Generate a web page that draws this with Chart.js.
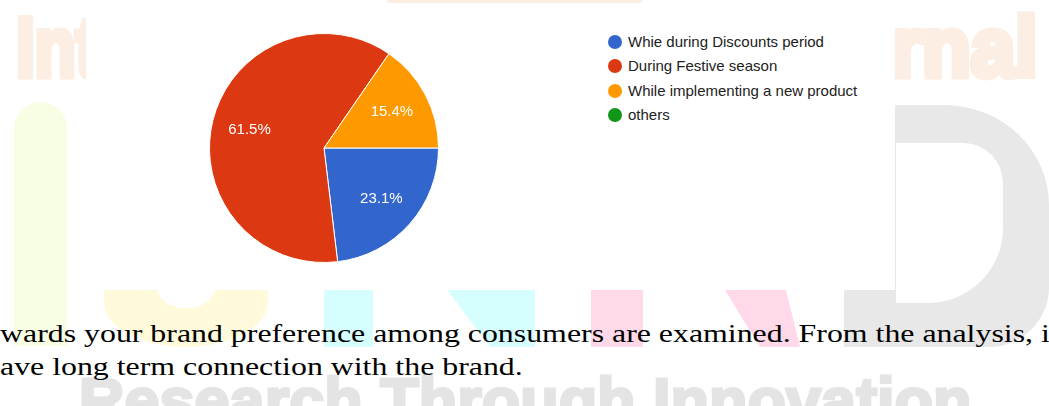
<!DOCTYPE html>
<html>
<head>
<meta charset="utf-8">
<script src="https://cdn.jsdelivr.net/npm/chart.js@4.4.1/dist/chart.umd.min.js"></script>
<style>
  html, body { margin: 0; padding: 0; }
  body {
    width: 1049px; height: 406px; overflow: hidden; position: relative;
    background: #fff; font-family: 'Liberation Sans', Arial, sans-serif;
  }
  .wm { position: absolute; }
  .clip { position: absolute; overflow: hidden; }
  .wmtext { position: absolute; white-space: nowrap; font-weight: bold; }
  #box { position: absolute; left: 86px; top: 3px; width: 809px; height: 287px; background: #fff; }
  #pie { position: absolute; left: 194px; top: 18px; }
  #legend { position: absolute; left: 0; top: 0; }
  .row { position: absolute; left: 608px; height: 20px; white-space: nowrap; }
  .dot { position: absolute; left: 0; top: 3px; width: 14px; height: 14px; border-radius: 50%; }
  .lbl { position: absolute; left: 20px; top: 0; line-height: 20px; font-size: 15px; color: #222; }
  #para {
    position: absolute; left: 0; top: 317px; white-space: nowrap;
    font-family: 'Liberation Serif', 'Times New Roman', serif; font-size: 26px; line-height: 33px;
    color: #000; transform: scaleX(1.225); transform-origin: 0 0;
  }
</style>
</head>
<body>

<!-- watermark behind the figure -->
<div class="wm" style="left:387px;top:0;width:255px;height:3px;background:#fdeee2"></div>
<div class="clip" style="left:0;top:0;width:87px;height:100px">
  <div class="wmtext" style="left:16px;top:5px;font-size:84px;line-height:84px;color:#fdeee3;-webkit-text-stroke:7px #fdeee3;transform:scaleX(.8);transform-origin:0 0">Int</div>
</div>
<div class="clip" style="left:895px;top:0;width:154px;height:100px">
  <div class="wmtext" style="left:-4px;top:5px;font-size:84px;line-height:84px;color:#fdeee3;-webkit-text-stroke:7px #fdeee3;transform:scaleX(.95);transform-origin:0 0">rnal</div>
</div>
<div class="wm" style="left:14px;top:102px;width:53px;height:244px;background:#f8fee3;border-radius:26px 26px 0 0"></div>
<div class="wm" style="left:104px;top:190px;width:164px;height:157px;background:#fffadb;border-radius:0 0 82px 82px / 0 0 45px 45px"></div>
<div class="wm" style="left:157px;top:190px;width:58px;height:118px;background:#fff;border-radius:0 0 29px 29px / 0 0 20px 20px"></div>
<div class="wm" style="left:324px;top:100px;width:49px;height:247px;background:#d6fefe"></div>
<div class="wm" style="left:0;top:0;width:1049px;height:406px;background:#d6fefe;clip-path:polygon(305px 100px,535px 100px,535px 347px,490px 347px)"></div>
<div class="wm" style="left:591px;top:100px;width:52px;height:247px;background:#ffd8ea"></div>
<div class="wm" style="left:0;top:0;width:1049px;height:406px;background:#ffd8ea;clip-path:polygon(725px 290px,786px 290px,800px 347px,760px 347px)"></div>
<div class="wm" style="left:844px;top:105px;width:205px;height:242px;background:#e8e8e8;border-top-right-radius:105px 100px;border-bottom-right-radius:60px 60px"></div>
<div class="wm" style="left:896px;top:143px;width:107px;height:160px;background:#fff;border-top-right-radius:40px;border-bottom-right-radius:75px"></div>
<div class="wmtext" style="left:79px;top:368px;font-size:63px;line-height:64px;color:#e4e4e4;-webkit-text-stroke:3px #e4e4e4">Research Through Innovation</div>

<div id="box"></div>
<canvas id="pie" width="260" height="260"></canvas>
<div id="legend"></div>

<div id="para">wards your brand preference among consumers are examined. From the analysis, i<br>ave long term connection with the brand.</div>

<script>
// data
const categorias = ['Whie during Discounts period', 'During Festive season', 'While implementing a new product', 'others'];
const porcentajes = [23.1, 61.5, 15.4, 0];
const colores = ['#3366cc', '#dc3912', '#ff9900', '#109618'];

// legend built from the same arrays
const legend = document.getElementById('legend');
categorias.forEach((c, i) => {
    const row = document.createElement('div');
    row.className = 'row';
    row.style.top = (42 + i * 24.3 - 10) + 'px';
    row.innerHTML = '<span class="dot" style="background:' + colores[i] + '"></span><span class="lbl">' + c + '</span>';
    legend.appendChild(row);
});

// percent labels inside slices
const pieLabels = {
    id: 'pieLabels',
    afterDatasetsDraw(chart) {
        const ctx = chart.ctx;
        const meta = chart.getDatasetMeta(0);
        ctx.save();
        ctx.font = '15px "Liberation Sans", Arial, sans-serif';
        ctx.fillStyle = '#fff';
        ctx.textAlign = 'center';
        ctx.textBaseline = 'middle';
        meta.data.forEach((arc, i) => {
            if (!porcentajes[i]) return;
            const p = arc.getProps(['x', 'y', 'startAngle', 'endAngle', 'outerRadius'], true);
            const mid = (p.startAngle + p.endAngle) / 2;
            const r = p.outerRadius * 0.67;
            ctx.fillText(porcentajes[i].toFixed(1) + '%', p.x + Math.cos(mid) * r, p.y + Math.sin(mid) * r);
        });
        ctx.restore();
    }
};

const ctx = document.getElementById('pie').getContext('2d');
const pieChart = new Chart(ctx, {
    type: 'pie',
    data: {
        labels: categorias,
        datasets: [{
            data: porcentajes,
            backgroundColor: colores,
            borderColor: '#ffffff',
            borderWidth: 1
        }]
    },
    options: {
        responsive: false,
        animation: false,
        devicePixelRatio: 1,
        rotation: 90,
        radius: 114.5,
        layout: { padding: 0 },
        plugins: {
            legend: { display: false },
            tooltip: { enabled: false }
        }
    },
    plugins: [pieLabels]
});
</script>
</body>
</html>
